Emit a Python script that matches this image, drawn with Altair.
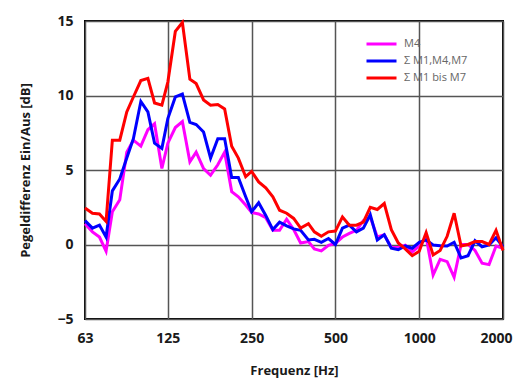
import altair as alt
import pandas as pd

freq = [63, 67, 71, 75, 79, 84, 89, 94, 100, 106, 112, 119,
        125, 133, 141, 150, 158, 168, 178, 189, 200, 212, 224, 238,
        250, 265, 281, 298, 315, 334, 354, 375, 400, 420, 445, 472,
        500, 530, 561, 595, 630, 667, 707, 749, 794, 841, 891, 944,
        1000, 1059, 1122, 1189, 1260, 1335, 1414, 1498, 1587, 1682, 1782, 1888,
        2000]

m4 = [1.4, 0.85, 0.5, -0.45, 2.2, 3.0, 6.2, 7.0, 6.6, 7.7,
      8.1, 5.1, 6.8, 7.85, 8.25, 5.55, 6.2, 5.1, 4.65, 5.35,
      6.2, 3.55, 3.2, 2.65, 2.15, 2.05, 1.8, 0.95, 0.95, 1.7,
      1.0, 0.1, 0.2, -0.3, -0.43, -0.05, 0.08, 0.5, 0.75, 0.95,
      1.6, 1.85, 0.5, 0.65, -0.2, -0.2, -0.05, -0.5, -0.1, 0.5,
      -2.05, -1.0, -1.15, -2.2, 0.0, 0.0, -0.4, -1.25, -1.35, -0.1,
      -0.25]

m1_m4_m7 = [1.6, 1.1, 1.3, 0.5, 3.6, 4.4, 5.8, 7.1, 9.6, 8.9,
            6.8, 6.45, 8.45, 9.9, 10.1, 8.2, 8.05, 7.55, 5.8, 7.1,
            7.1, 4.5, 4.5, 3.2, 2.2, 2.8, 1.95, 1.0, 1.5, 1.25,
            1.05, 0.95, 0.3, 0.35, 0.15, 0.4, 0.0, 1.1, 1.3, 0.85,
            1.1, 2.0, 0.3, 0.65, -0.25, -0.35, -0.1, -0.25, 0.15, 0.3,
            -0.03, -0.08, -0.1, 0.15, -0.9, -0.75, 0.25, -0.15, -0.03, 0.45,
            -0.15]

m1_bis_m7 = [2.45, 2.1, 2.05, 1.55, 7.0, 7.0, 8.9, 9.9, 11.0, 11.15,
             9.5, 9.35, 10.9, 14.3, 14.9, 11.1, 10.8, 9.7, 9.35, 9.4,
             9.1, 6.6, 5.8, 4.55, 4.9, 4.2, 3.8, 3.2, 2.3, 2.1,
             1.75, 1.1, 1.4, 0.85, 0.55, 0.85, 0.9, 1.85, 1.3, 1.3,
             1.5, 2.5, 2.35, 2.75, 1.0, 0.1, -0.3, -0.75, -0.45, 0.8,
             -0.7, -0.4, 0.55, 2.1, -0.1, 0.0, 0.2, 0.2, 0.0, 0.95,
             -0.4]

series_names = ["M4", "\u03a3 M1,M4,M7", "\u03a3 M1 bis M7"]
series_colors = ["#ff00ff", "#0000ff", "#ff0000"]
x_ticks = [63, 125, 250, 500, 1000, 2000]
y_ticks = [-5, 0, 5, 10, 15]

rows = []
for k, (name, vals) in enumerate(zip(series_names, [m4, m1_m4_m7, m1_bis_m7])):
    for f, v in zip(freq, vals):
        rows.append({"f": f, "v": v, "s": name, "k": k})
df = pd.DataFrame(rows)

chart = alt.Chart(df).mark_line(strokeWidth=3, strokeJoin="miter").encode(
    x=alt.X("f:Q",
            scale=alt.Scale(type="log", domain=[63, 2000], nice=False),
            axis=alt.Axis(values=x_ticks, format="d", title="Frequenz [Hz]",
                          labelPadding=12, titlePadding=19, labelFlush=False,
                          labelAlign={"condition": {"test": "datum.value >= 2000", "value": "right"},
                                      "value": "center"},
                          labelOffset={"condition": {"test": "datum.value >= 2000", "value": 9},
                                       "value": 0})),
    y=alt.Y("v:Q",
            scale=alt.Scale(domain=[-5, 15], nice=False, zero=False),
            axis=alt.Axis(values=y_ticks, title="Pegeldifferenz Ein/Aus [dB]",
                          labelPadding=12, titlePadding=24)),
    color=alt.Color("s:N",
                    scale=alt.Scale(domain=series_names, range=series_colors),
                    legend=alt.Legend(title=None, orient="none", legendX=280, legendY=16,
                                      symbolType="stroke", symbolSize=900, symbolStrokeWidth=3,
                                      labelFontSize=11, labelColor="#666666", labelOffset=6,
                                      labelFont="Open Sans", labelFontWeight="normal",
                                      padding=0, rowPadding=3, clipHeight=14)),
    order=alt.Order("k:Q"),
).properties(
    width=418, height=298,
    autosize=alt.AutoSizeParams(type="none"),
    padding={"left": 77, "top": 13, "right": 10, "bottom": 60},
).configure_view(
    stroke="#000000", strokeWidth=2
).configure_axis(
    grid=True, gridColor="#555555", gridWidth=1.5, gridOpacity=1,
    domain=False, ticks=False,
    labelFont="Open Sans", labelFontSize=14, labelFontWeight="bold", labelColor="#1a1a1a",
    titleFont="Open Sans", titleFontSize=13, titleFontWeight="bold", titleColor="#1a1a1a",
)

chart.save("out.html", embed_options={"renderer": "svg", "actions": False})
